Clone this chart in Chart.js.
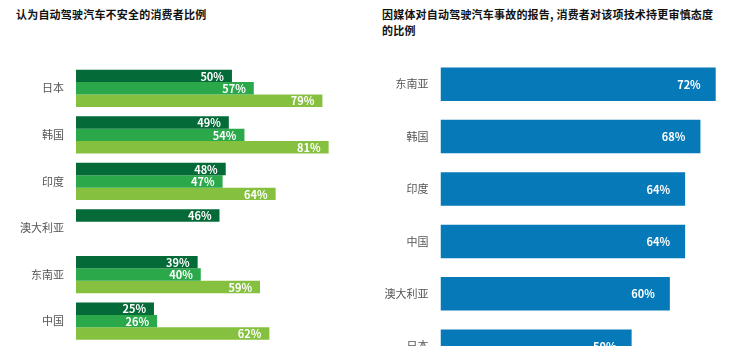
<!DOCTYPE html>
<html lang="zh">
<head>
	<meta charset="UTF-8">
	<title>自动驾驶汽车消费者调查</title>
	<script src="https://cdn.jsdelivr.net/npm/chart.js"></script>
	<style>
		body { margin: 0; width: 744px; height: 346px; overflow: hidden; background: #fff; position: relative; font-family: "Noto Sans CJK SC", sans-serif; }
		.title { position: absolute; font-size: 11px; font-weight: bold; line-height: 16px; color: #111; letter-spacing: 0.2px; }
		canvas { position: absolute; top: 0; display: block; }
	</style>
</head>
<body>
	<div class="title" style="left:16px; top:6px;">认为自动驾驶汽车不安全的消费者比例</div>
	<div class="title" style="left:382px; top:6px;">因媒体对自动驾驶汽车事故的报告, 消费者对该项技术持更审慎态度<br>的比例</div>

	<!-- canvases run past the bottom edge, the source image is cut off there too -->
	<canvas id="leftChart" width="372" height="363" style="left:0"></canvas>
	<canvas id="rightChart" width="372" height="391" style="left:372px"></canvas>

	<script>
		// left chart: three series per country
		const leftCountries = ['日本', '韩国', '印度', '澳大利亚', '东南亚', '中国'];
		const leftSeries1 = [50, 49, 48, 46, 39, 25];
		const leftSeries2 = [57, 54, 47, null, 40, 26];
		const leftSeries3 = [79, 81, 64, null, 59, 62];

		// right chart
		const rightCountries = ['东南亚', '韩国', '印度', '中国', '澳大利亚', '日本'];
		const rightValues = [72, 68, 64, 64, 60, 50];

		const cjk = '"Noto Sans CJK SC", sans-serif';

		// draws the white % labels inside the bar ends
		const valueLabels = {
			id: 'valueLabels',
			afterDatasetsDraw(chart, args, opts) {
				const ctx = chart.ctx;
				ctx.save();
				ctx.fillStyle = '#fff';
				ctx.font = 'bold 11px ' + cjk;
				ctx.textAlign = 'right';
				ctx.textBaseline = 'middle';
				chart.data.datasets.forEach((ds, i) => {
					const meta = chart.getDatasetMeta(i);
					meta.data.forEach((bar, j) => {
						if (ds.data[j] == null) return;
						ctx.fillText(ds.data[j] + '%', bar.x - opts.pad, bar.y + 0.5);
					});
				});
				ctx.restore();
			}
		};

		function yAxis(width) {
			return {
				afterFit: s => { s.width = width; },
				grid: { display: false, drawTicks: false },
				border: { display: false },
				ticks: { color: '#555', padding: 12, font: { family: cjk, size: 11 } }
			};
		}

		new Chart(document.getElementById('leftChart'), {
			type: 'bar',
			data: {
				labels: leftCountries,
				datasets: [
					{ data: leftSeries1, backgroundColor: '#046a38' },
					{ data: leftSeries2, backgroundColor: '#2ba84a' },
					{ data: leftSeries3, backgroundColor: '#86c03f' }
				]
			},
			options: {
				indexAxis: 'y',
				responsive: false,
				animation: false,
				categoryPercentage: 0.8,
				barPercentage: 1.0,
				layout: { padding: { top: 65, bottom: 2, left: 0, right: 0 } },
				scales: {
					x: { display: false, min: 0, max: 94.9 },
					y: yAxis(76)
				},
				plugins: {
					legend: { display: false },
					tooltip: { enabled: false },
					valueLabels: { pad: 8 }
				}
			},
			plugins: [valueLabels]
		});

		new Chart(document.getElementById('rightChart'), {
			type: 'bar',
			data: {
				labels: rightCountries,
				datasets: [
					{ data: rightValues, backgroundColor: '#0679b9' }
				]
			},
			options: {
				indexAxis: 'y',
				responsive: false,
				animation: false,
				categoryPercentage: 0.64,
				barPercentage: 1.0,
				layout: { padding: { top: 58, bottom: 8, left: 0, right: 0 } },
				scales: {
					x: { display: false, min: 0, max: 79.4 },
					y: yAxis(68.5)
				},
				plugins: {
					legend: { display: false },
					tooltip: { enabled: false },
					valueLabels: { pad: 15 }
				}
			},
			plugins: [valueLabels]
		});
	</script>
</body>
</html>
